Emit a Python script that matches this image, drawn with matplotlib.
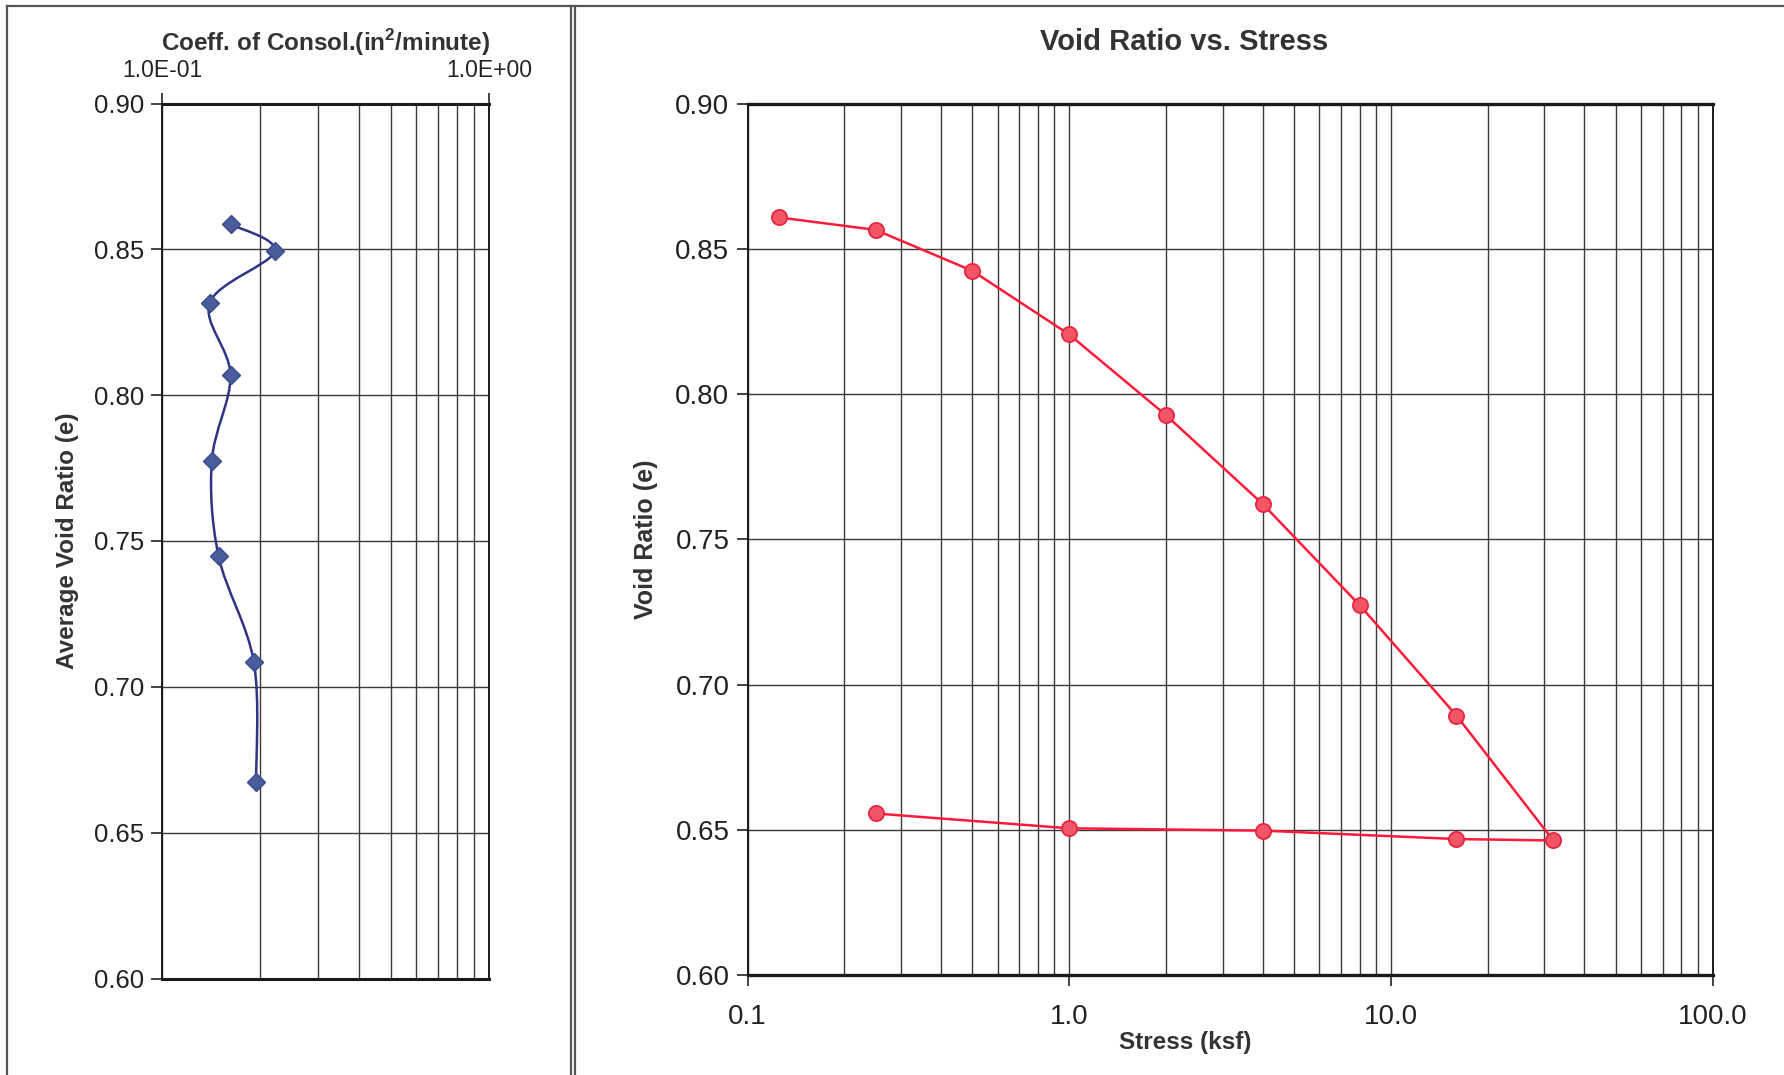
import numpy as np
import matplotlib
matplotlib.use("Agg")
import matplotlib.pyplot as plt
from matplotlib.path import Path
from matplotlib.patches import PathPatch
from matplotlib.lines import Line2D
from matplotlib.ticker import FixedLocator, FixedFormatter, NullFormatter

plt.rcParams['font.family'] = ['Liberation Sans', 'DejaVu Sans']

# left panel: coefficient of consolidation vs average void ratio
cv = [0.162, 0.221, 0.140, 0.162, 0.142, 0.149, 0.191, 0.194]
e_avg = [0.8586, 0.8493, 0.8317, 0.8068, 0.7775, 0.7447, 0.7085, 0.6675]

# right panel: void ratio vs stress (loading then unloading)
stress = [0.125, 0.25, 0.5, 1.0, 2.0, 4.0, 8.0, 16.0, 32.0, 16.0, 4.0, 1.0, 0.25]
void_ratio = [0.8608, 0.8565, 0.8424, 0.8205, 0.7927, 0.7621, 0.7273, 0.6893,
              0.6463, 0.6468, 0.6497, 0.6505, 0.6556]

y_ticks = [0.60, 0.65, 0.70, 0.75, 0.80, 0.85, 0.90]
stress_ticks = [0.1, 1.0, 10.0, 100.0]
stress_labels = ['0.1', '1.0', '10.0', '100.0']
cv_ticks = [0.1, 1.0]
cv_labels = ['1.0E-01', '1.0E+00']

W, H = 1784, 1075
fig = plt.figure(figsize=(W / 100, H / 100), dpi=100)

grid_kw = dict(color='#3a3a3a', linewidth=1.0)
txt = '#333333'

# ---- left panel ----
ax1 = fig.add_axes([162 / W, 1 - 978.5 / H, 327 / W, 875 / H])
ax1.set_xscale('log')
ax1.set_xlim(0.1, 1.0)
ax1.set_ylim(0.60, 0.90)
ax1.xaxis.set_ticks_position('top')
ax1.xaxis.set_major_locator(FixedLocator(cv_ticks))
ax1.xaxis.set_major_formatter(FixedFormatter(cv_labels))
ax1.xaxis.set_minor_locator(FixedLocator(np.arange(2, 10) / 10))
ax1.xaxis.set_minor_formatter(NullFormatter())
ax1.set_yticks(y_ticks)
ax1.set_yticklabels([f'{v:.2f}' for v in y_ticks])
ax1.tick_params(axis='x', which='major', direction='out', length=8, width=1.2,
                labelsize=16.5, pad=7.5, colors='#222222')
ax1.tick_params(axis='x', which='minor', length=0)
ax1.tick_params(axis='y', direction='out', length=8, width=1.2, labelsize=18.5,
                pad=5, colors='#222222')
ax1.grid(True, which='both', axis='x', **grid_kw)
ax1.grid(True, which='major', axis='y', **grid_kw)
for s in ax1.spines.values():
    s.set_linewidth(1.4)
    s.set_color('#1a1a1a')
ax1.spines['top'].set_linewidth(2.2)
ax1.spines['bottom'].set_linewidth(2.2)
ax1.set_ylabel('Average Void Ratio (e)', fontsize=17.5, fontweight='bold', color=txt)
ax1.yaxis.set_label_coords(-0.253, 0.5)
fig.text(326 / W, 1 - 43 / H, 'Coeff. of Consol.(in$^\\mathregular{2}$/minute)',
         fontsize=17.5, fontweight='bold', color=txt, ha='center', va='center')

# smoothed line (Excel-style bezier) built in axes pixel space
fig.canvas.draw()
bb = ax1.get_window_extent()
px = (np.log10(cv) + 1.0) * bb.width
py = (np.array(e_avg) - 0.60) / 0.30 * bb.height
pts = np.column_stack([px, py])
ext = np.vstack([pts[0], pts, pts[-1]])
verts = [pts[0]]
codes = [Path.MOVETO]
for i in range(len(pts) - 1):
    p0, p1, p2, p3 = ext[i], ext[i + 1], ext[i + 2], ext[i + 3]
    verts += [p1 + (p2 - p0) / 6.0, p2 - (p3 - p1) / 6.0, p2]
    codes += [Path.CURVE4] * 3
verts = np.array(verts)
vx = 10 ** (verts[:, 0] / bb.width - 1.0)
vy = 0.60 + verts[:, 1] / bb.height * 0.30
ax1.add_patch(PathPatch(Path(np.column_stack([vx, vy]), codes), fill=False,
                        edgecolor='#2e3585', linewidth=1.8, zorder=3))
ax1.plot(cv, e_avg, linestyle='none', marker='D', markersize=9.5,
         markerfacecolor='#4a5c9c', markeredgecolor='#3a4a8a', zorder=4)

# ---- right panel ----
ax2 = fig.add_axes([747.5 / W, 1 - 975 / H, 965 / W, 871.5 / H])
ax2.set_xscale('log')
ax2.set_xlim(0.1, 100.0)
ax2.set_ylim(0.60, 0.90)
ax2.xaxis.set_major_locator(FixedLocator(stress_ticks))
ax2.xaxis.set_major_formatter(FixedFormatter(stress_labels))
minors = [m * 10.0 ** d for d in (-1, 0, 1) for m in range(2, 10)]
ax2.xaxis.set_minor_locator(FixedLocator(minors))
ax2.xaxis.set_minor_formatter(NullFormatter())
ax2.set_yticks(y_ticks)
ax2.set_yticklabels([f'{v:.2f}' for v in y_ticks])
ax2.tick_params(axis='x', which='major', direction='out', length=8, width=1.2,
                labelsize=20, pad=13, colors='#222222')
ax2.tick_params(axis='x', which='minor', length=0)
ax2.tick_params(axis='y', direction='out', length=8, width=1.2, labelsize=20,
                pad=5, colors='#222222')
ax2.grid(True, which='both', axis='x', **grid_kw)
ax2.grid(True, which='major', axis='y', **grid_kw)
for s in ax2.spines.values():
    s.set_linewidth(1.4)
    s.set_color('#1a1a1a')
ax2.spines['top'].set_linewidth(2.4)
ax2.spines['bottom'].set_linewidth(2.4)
ax2.plot(stress, void_ratio, color='#ff1a3a', linewidth=1.8, marker='o',
         markersize=11, markerfacecolor='#f25565', markeredgecolor='#e8203c',
         markeredgewidth=1.2, zorder=4)
ax2.set_ylabel('Void Ratio (e)', fontsize=18, fontweight='bold', color=txt)
ax2.yaxis.set_label_coords(-0.0925, 0.5)
fig.text(1184.5 / W, 1 - 42 / H, 'Void Ratio vs. Stress', fontsize=21,
         fontweight='bold', color=txt, ha='center', va='center')
fig.text(1185.5 / W, 1 - 1043 / H, 'Stress (ksf)', fontsize=17.5,
         fontweight='bold', color=txt, ha='center', va='center')

# panel frames
frame_kw = dict(color='#555555', linewidth=1.6, transform=fig.transFigure)
fig.add_artist(Line2D([7 / W, 7 / W], [0, 1 - 6 / H], **frame_kw))
fig.add_artist(Line2D([571 / W, 571 / W], [0, 1 - 6 / H], **frame_kw))
fig.add_artist(Line2D([574.5 / W, 574.5 / W], [0, 1 - 6 / H], **frame_kw))
fig.add_artist(Line2D([7 / W, 1], [1 - 6 / H, 1 - 6 / H], **frame_kw))

fig.savefig('out.png', dpi=100, facecolor='white')
